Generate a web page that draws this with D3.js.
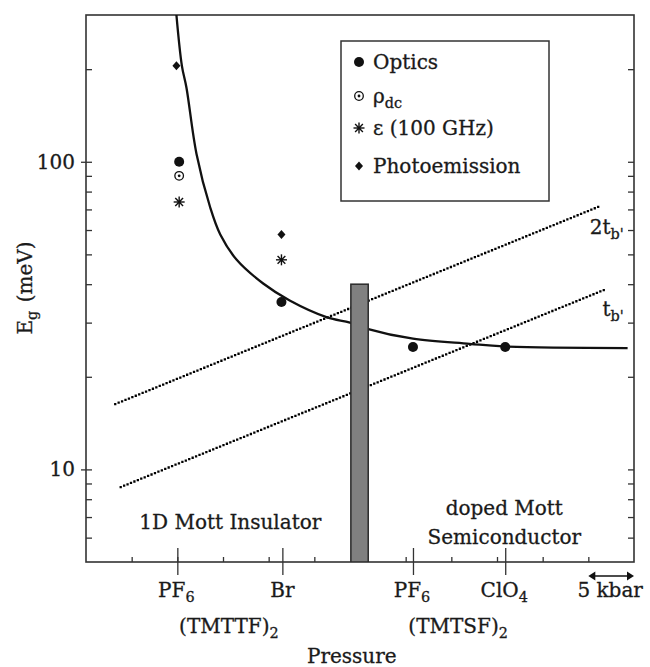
<!DOCTYPE html>
<html>
<head>
<meta charset="utf-8">
<script src="https://cdn.jsdelivr.net/npm/d3@7"></script>
<style>
  body { margin: 0; background: #fff; }
  text { font-family: "DejaVu Serif", serif; fill: #1a1a1a; stroke: #1a1a1a; stroke-width: 0.3; }
</style>
</head>
<body>
<script>
// compounds along the pressure axis (kbar, relative scale)
const compoundKbar = [10, 21.5, 35.8, 45.9];

// data points (meV)
const opticsP = [10.2, 21.4, 35.8, 45.9];
const opticsE = [100, 35, 25, 25];
const rhoP = [10.2];
const rhoE = [90];
const epsP = [10.2, 21.4];
const epsE = [74, 48];
const photoP = [9.9, 21.4];
const photoE = [205, 58];

// solid gap curve
const curveP = [9.9, 10.5, 11.0, 12.1, 13.6, 14.7, 16.5, 19.4, 22.3, 26.4, 28.9, 30.7, 35.8, 42.0, 45.7, 59.3];
const curveE = [300, 205, 174, 106, 71, 58, 48, 40.2, 35.4, 31.2, 30.0, 28.7, 26.6, 25.6, 25.1, 24.8];

// dotted t_b' lines
const line2tP = [3.2, 56.1];
const line2tE = [16.3, 71.4];
const line1tP = [3.8, 56.8];
const line1tE = [8.76, 38.4];

// grey crossover bar
const barP = [29.0, 30.9];
const barTop = 40;

// ticks
const yMinorTicks = [6, 7, 8, 9, 10, 20, 30, 40, 50, 60, 70, 80, 90, 100, 200];
const yMajorTicks = [10, 100];
const xMinorTicks = [5, 10, 15, 20, 25, 30, 35, 40, 45, 50, 55];

const W = 650, H = 667;
const margin = {top: 15, right: 16, bottom: 105, left: 86};
const innerW = W - margin.left - margin.right;
const innerH = H - margin.top - margin.bottom;
const fs = 20;

const svg = d3.select('body').append('svg').attr('width', W).attr('height', H);
const g = svg.append('g').attr('transform', `translate(${margin.left},${margin.top})`);

const x = d3.scaleLinear().domain([0, 60]).range([0, innerW]);
const y = d3.scaleLog().domain([5, 300]).range([innerH, 0]);

svg.append('defs').append('clipPath').attr('id', 'clip')
  .append('rect').attr('width', innerW).attr('height', innerH);

// axes (ticks only, frame drawn separately)
function styleAxis(sel) {
  sel.select('.domain').remove();
  sel.selectAll('.tick line').attr('stroke', '#333').attr('stroke-width', 1.3);
  sel.selectAll('.tick text').remove();
}
g.append('g').call(d3.axisLeft(y).tickValues(yMinorTicks).tickSize(-6)).call(styleAxis);
g.append('g').call(d3.axisLeft(y).tickValues(yMajorTicks).tickSize(5)).call(styleAxis);
g.append('g').attr('transform', `translate(${innerW},0)`)
  .call(d3.axisRight(y).tickValues(yMinorTicks).tickSize(-6)).call(styleAxis);
g.append('g').attr('transform', `translate(0,${innerH})`)
  .call(d3.axisBottom(x).tickValues(xMinorTicks).tickSize(-5)).call(styleAxis);
g.append('g').attr('transform', `translate(0,${innerH})`)
  .call(d3.axisBottom(x).tickValues(compoundKbar).tickSize(13)).call(styleAxis);
g.append('g').attr('transform', `translate(0,${innerH})`)
  .call(d3.axisBottom(x).tickValues(compoundKbar).tickSize(-14)).call(styleAxis);

// y tick labels
g.selectAll('.ylab').data(yMajorTicks).enter().append('text')
  .attr('x', -11).attr('y', d => y(d) + 7)
  .attr('text-anchor', 'end').attr('font-size', fs).text(d => d);

// frame
g.append('rect').attr('width', innerW).attr('height', innerH)
  .attr('fill', 'none').attr('stroke', '#333').attr('stroke-width', 1.6);

const plot = g.append('g').attr('clip-path', 'url(#clip)');

// dotted lines
const dotted = (P, E) => P.map((p, i) => [x(p), y(E[i])]);
[[line2tP, line2tE], [line1tP, line1tE]].forEach(([P, E]) => {
  plot.append('path').attr('d', d3.line()(dotted(P, E)))
    .attr('fill', 'none').attr('stroke', '#000').attr('stroke-width', 2.3)
    .attr('stroke-linecap', 'square').attr('stroke-dasharray', '0 3.7');
});

// solid curve
plot.append('path')
  .attr('d', d3.line().curve(d3.curveCatmullRom.alpha(0.5))(curveP.map((p, i) => [x(p), y(curveE[i])])))
  .attr('fill', 'none').attr('stroke', '#111').attr('stroke-width', 2.3);

// bar
plot.append('rect')
  .attr('x', x(barP[0])).attr('width', x(barP[1]) - x(barP[0]))
  .attr('y', y(barTop)).attr('height', innerH - y(barTop))
  .attr('fill', '#808080').attr('stroke', '#2a2a2a').attr('stroke-width', 1.5);

// marker drawing
function dot(sel, cx, cy) {
  sel.append('circle').attr('cx', cx).attr('cy', cy).attr('r', 5).attr('fill', '#111');
}
function ring(sel, cx, cy) {
  sel.append('circle').attr('cx', cx).attr('cy', cy).attr('r', 4.3)
    .attr('fill', '#fff').attr('stroke', '#111').attr('stroke-width', 1.3);
  sel.append('circle').attr('cx', cx).attr('cy', cy).attr('r', 1.4).attr('fill', '#111');
}
function star(sel, cx, cy) {
  const r = 5.5;
  [0, 45, 90, 135].forEach(a => {
    const dx = r * Math.cos(a * Math.PI / 180), dy = r * Math.sin(a * Math.PI / 180);
    sel.append('line').attr('x1', cx - dx).attr('y1', cy - dy).attr('x2', cx + dx).attr('y2', cy + dy)
      .attr('stroke', '#111').attr('stroke-width', 1.4);
  });
  sel.append('circle').attr('cx', cx).attr('cy', cy).attr('r', 1.6).attr('fill', '#111');
}
function diamond(sel, cx, cy) {
  sel.append('path').attr('d', `M${cx},${cy - 4.5}L${cx + 4},${cy}L${cx},${cy + 4.5}L${cx - 4},${cy}Z`)
    .attr('fill', '#111');
}

const marks = g.append('g');
opticsP.forEach((p, i) => dot(marks, x(p), y(opticsE[i])));
rhoP.forEach((p, i) => ring(marks, x(p), y(rhoE[i])));
epsP.forEach((p, i) => star(marks, x(p), y(epsE[i])));
photoP.forEach((p, i) => diamond(marks, x(p), y(photoE[i])));

// subscript helper
function subText(sel, parts, size) {
  parts.forEach(([t, sub]) => {
    if (sub) {
      sel.append('tspan').attr('dy', 5).attr('font-size', size * 0.72).text(t);
      sel.append('tspan').attr('dy', -5).text('\u200a');
    } else {
      sel.append('tspan').text(t);
    }
  });
  return sel;
}

// legend
const lx = 341 - margin.left, ly = 41 - margin.top;
const legend = g.append('g').attr('transform', `translate(${lx},${ly})`);
legend.append('rect').attr('width', 208).attr('height', 160)
  .attr('fill', '#fff').attr('stroke', '#333').attr('stroke-width', 1.5);
const legendRows = [
  [dot, [['Optics']]],
  [ring, [['\u03c1'], ['dc', true]]],
  [star, [['\u03b5 (100 GHz)']]],
  [diamond, [['Photoemission']]]
];
const rowY = [21, 55, 87, 125];
legendRows.forEach(([fn, parts], i) => {
  fn(legend, 18, rowY[i]);
  subText(legend.append('text').attr('x', 32).attr('y', rowY[i] + 7).attr('font-size', fs), parts, fs);
});

// line labels
subText(g.append('text').attr('x', x(59.1)).attr('y', y(58.4)).attr('text-anchor', 'end').attr('font-size', fs),
  [['2t'], ["b'", true]], fs);
subText(g.append('text').attr('x', x(59.1)).attr('y', y(31.5)).attr('text-anchor', 'end').attr('font-size', fs),
  [['t'], ["b'", true]], fs);

// region labels
g.append('text').attr('x', x(15.8)).attr('y', y(6.4)).attr('text-anchor', 'middle')
  .attr('font-size', fs).text('1D Mott Insulator');
g.append('text').attr('x', x(45.8)).attr('y', y(7.1)).attr('text-anchor', 'middle')
  .attr('font-size', fs).text('doped Mott');
g.append('text').attr('x', x(45.8)).attr('y', y(5.7)).attr('text-anchor', 'middle')
  .attr('font-size', fs).text('Semiconductor');

// compound labels
const base1 = innerH + 35, base2 = innerH + 71;
const xl = g.append('g');
subText(xl.append('text').attr('x', x(compoundKbar[0])).attr('y', base1).attr('text-anchor', 'middle').attr('font-size', fs), [['PF'], ['6', true]], fs);
xl.append('text').attr('x', x(compoundKbar[1])).attr('y', base1).attr('text-anchor', 'middle').attr('font-size', fs).text('Br');
subText(xl.append('text').attr('x', x(compoundKbar[2])).attr('y', base1).attr('text-anchor', 'middle').attr('font-size', fs), [['PF'], ['6', true]], fs);
subText(xl.append('text').attr('x', x(compoundKbar[3])).attr('y', base1).attr('text-anchor', 'middle').attr('font-size', fs), [['ClO'], ['4', true]], fs);
subText(xl.append('text').attr('x', x((compoundKbar[0] + compoundKbar[1]) / 2)).attr('y', base2).attr('text-anchor', 'middle').attr('font-size', fs), [['(TMTTF)'], ['2', true]], fs);
subText(xl.append('text').attr('x', x((compoundKbar[2] + compoundKbar[3]) / 2)).attr('y', base2).attr('text-anchor', 'middle').attr('font-size', fs), [['(TMTSF)'], ['2', true]], fs);

// 5 kbar scale arrow
const ay = innerH + 14;
const arrow = g.append('g');
arrow.append('line').attr('x1', x(55) + 2).attr('x2', x(60) - 2).attr('y1', ay).attr('y2', ay)
  .attr('stroke', '#111').attr('stroke-width', 1.6);
arrow.append('path').attr('d', `M${x(55)},${ay}l7,-4.5v9Z`).attr('fill', '#111');
arrow.append('path').attr('d', `M${x(60)},${ay}l-7,-4.5v9Z`).attr('fill', '#111');
g.append('text').attr('x', x(57.5) - 1).attr('y', base1).attr('text-anchor', 'middle').attr('font-size', fs).text('5 kbar');

// axis titles
g.append('text').attr('x', x(29.1)).attr('y', innerH + 101).attr('text-anchor', 'middle')
  .attr('font-size', fs).text('Pressure');
subText(g.append('text').attr('transform', `translate(${32 - margin.left},${288 - margin.top}) rotate(-90)`)
  .attr('text-anchor', 'middle').attr('font-size', fs), [['E'], ['g', true], [' (meV)']], fs);
</script>
</body>
</html>
